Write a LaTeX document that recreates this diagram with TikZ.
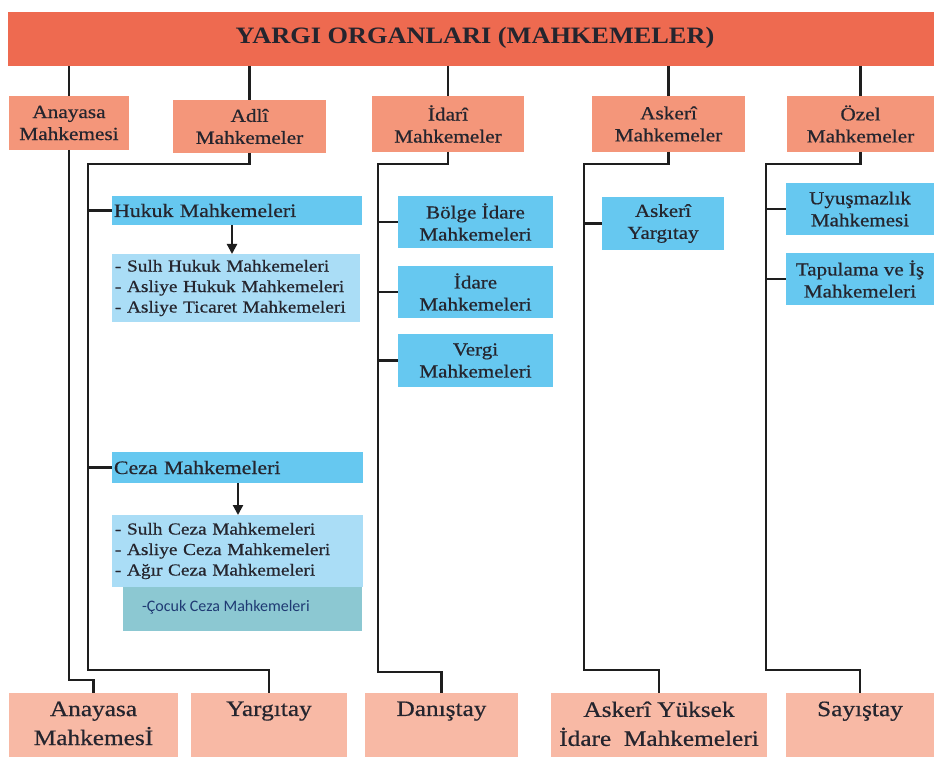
\documentclass[tikz,border=0pt]{standalone}
\usepackage{fontspec}
\setmainfont{Liberation Serif}[FakeStretch=1.15,FakeBold=0.6]
\newfontfamily\titlefont{Liberation Serif}[FakeStretch=1.12]
\newfontfamily\calfont{Carlito}
\usetikzlibrary{arrows.meta}
\definecolor{barcol}{HTML}{EE6A50}
\definecolor{midcol}{HTML}{F4967A}
\definecolor{botcol}{HTML}{F8B9A5}
\definecolor{bluecol}{HTML}{66C8F0}
\definecolor{listcol}{HTML}{AADDF6}
\definecolor{cocol}{HTML}{8CC8D2}
\definecolor{txtcol}{HTML}{25252E}
\definecolor{cotxt}{HTML}{1F3A73}
\definecolor{linecol}{HTML}{1E1E1E}
\tikzset{
  base/.style={inner sep=0pt, outer sep=0pt, text=txtcol},
  topbar/.style={base, fill=barcol},
  midbox/.style={base, fill=midcol, align=center, font=\fontsize{18.5}{22}\selectfont},
  botbox/.style={base, fill=botcol, minimum height=64pt},
  botlbl/.style={anchor=north, yshift=-5pt, align=center, text=txtcol, font=\fontsize{22}{29}\selectfont},
  bluebox/.style={base, fill=bluecol, align=center, font=\fontsize{18.3}{22}\selectfont},
  headbox/.style={base, fill=bluecol, align=left, inner xsep=2pt, font=\fontsize{19}{22}\selectfont},
  listbox/.style={base, fill=listcol, align=left, inner xsep=3pt, font=\fontsize{16.8}{20.5}\selectfont},
  conn/.style={draw=linecol, line width=2.2pt},
  arr/.style={draw=linecol, line width=2.2pt, -{Triangle[length=10pt,width=10pt]}},
}
\begin{document}
\begin{tikzpicture}[x=1pt,y=-1pt]
\useasboundingbox (0,0) rectangle (934,759);
\fill[white] (0,0) rectangle (934,759);
% top bar
\node[topbar, minimum width=926pt, minimum height=54pt] (top) at (471,39) {};
\node[base, font=\titlefont\fontsize{23.5}{25}\selectfont\bfseries] (title) at (475,38) {YARGI ORGANLARI (MAHKEMELER)};
% second row
\node[midbox, minimum width=120pt, minimum height=54pt] (an) at (69,123) {Anayasa\\Mahkemesi};
\node[midbox, minimum width=153pt, minimum height=53pt] (ad) at (249.5,126.5) {Adlî\\Mahkemeler};
\node[midbox, minimum width=152pt, minimum height=56pt] (id) at (448,124) {İdarî\\Mahkemeler};
\node[midbox, minimum width=153pt, minimum height=56pt] (as) at (668.5,124) {Askerî\\Mahkemeler};
\node[midbox, minimum width=147pt, minimum height=56pt] (oz) at (860.5,124) {Özel\\Mahkemeler};
% bottom row
\node[botbox, minimum width=169pt, label={[botlbl]north:Anayasa\\Mahkemesİ}] (anB) at (93.5,725) {};
\node[botbox, minimum width=156pt, label={[botlbl]north:Yargıtay}] (yaB) at (269,725) {};
\node[botbox, minimum width=153pt, label={[botlbl]north:Danıştay}] (daB) at (441.5,725) {};
\node[botbox, minimum width=216pt, label={[botlbl]north:Askerî Yüksek\\İdare\ \ Mahkemeleri}] (akB) at (659,725) {};
\node[botbox, minimum width=148pt, label={[botlbl]north:Sayıştay}] (saB) at (860,725) {};
% adli children
\node[headbox, text width=246pt, minimum height=29pt] (hukuk) at (237,210.5) {Hukuk Mahkemeleri};
\node[listbox, text width=242pt, minimum height=68pt] (hlist) at (236,288) {- Sulh Hukuk Mahkemeleri\\- Asliye Hukuk Mahkemeleri\\- Asliye Ticaret Mahkemeleri};
\node[headbox, text width=247pt, minimum height=31pt] (ceza) at (237.5,467.5) {Ceza Mahkemeleri};
\node[listbox, text width=245pt, minimum height=72pt] (clist) at (237.5,551) {- Sulh Ceza Mahkemeleri\\- Asliye Ceza Mahkemeleri\\- Ağır Ceza Mahkemeleri};
\node[base, fill=cocol, minimum width=239pt, minimum height=44pt] (cocuk) at (242.5,609) {};
\node[base, anchor=west, text=cotxt, font=\calfont\fontsize{16}{18}\selectfont] (coctxt) at (142,607) {-Çocuk Ceza Mahkemeleri};
% idari children
\node[bluebox, minimum width=155pt, minimum height=52pt] (bolge) at (475.5,222) {Bölge İdare\\Mahkemeleri};
\node[bluebox, minimum width=155pt, minimum height=52pt] (idare) at (475.5,292) {İdare\\Mahkemeleri};
\node[bluebox, minimum width=155pt, minimum height=53pt] (vergi) at (475.5,360.5) {Vergi\\Mahkemeleri};
% askeri child
\node[bluebox, minimum width=122pt, minimum height=53pt] (askY) at (663,223.5) {Askerî\\Yargıtay};
% ozel children
\node[bluebox, minimum width=148pt, minimum height=52pt] (uyu) at (860,209) {Uyuşmazlık\\Mahkemesi};
\node[bluebox, minimum width=148pt, minimum height=52pt] (tap) at (860,279) {Tapulama ve İş\\Mahkemeleri};
% coordinates
\coordinate (anjog) at (80,680);
\coordinate (adTop) at (88,164);
\coordinate (adBot) at (88,670);
\coordinate (idTop) at (378,164);
\coordinate (idBot) at (378,672);
\coordinate (asTop) at (584,164);
\coordinate (asBot) at (584,670);
\coordinate (ozTop) at (766,164);
\coordinate (ozBot) at (766,670);
\coordinate (hArr) at (232,0);
\coordinate (cArr) at (238,0);
% connectors from top bar
\draw[conn] (top.south -| an.north) -- (an.north);
\draw[conn] (top.south -| ad.north) -- (ad.north);
\draw[conn] (top.south -| id.north) -- (id.north);
\draw[conn] (top.south -| as.north) -- (as.north);
\draw[conn] (top.south -| oz.north) -- (oz.north);
% trunks
\draw[conn] (an.south) |- (anjog) -| (anB.north);
\draw[conn] (ad.south) |- (adTop) -- (adBot) -| (yaB.north);
\draw[conn] (id.south) |- (idTop) -- (idBot) -| (daB.north);
\draw[conn] (as.south) |- (asTop) -- (asBot) -| (akB.north);
\draw[conn] (oz.south) |- (ozTop) -- (ozBot) -| (saB.north);
% branches
\draw[conn] (adTop |- hukuk.west) -- (hukuk.west);
\draw[conn] (adTop |- ceza.west) -- (ceza.west);
\draw[conn] (idTop |- bolge.west) -- (bolge.west);
\draw[conn] (idTop |- idare.west) -- (idare.west);
\draw[conn] (idTop |- vergi.west) -- (vergi.west);
\draw[conn] (asTop |- askY.west) -- (askY.west);
\draw[conn] (ozTop |- uyu.west) -- (uyu.west);
\draw[conn] (ozTop |- tap.west) -- (tap.west);
% arrows
\draw[arr] (hukuk.south -| hArr) -- (hlist.north -| hArr);
\draw[arr] (ceza.south -| cArr) -- (clist.north -| cArr);
\end{tikzpicture}
\end{document}
